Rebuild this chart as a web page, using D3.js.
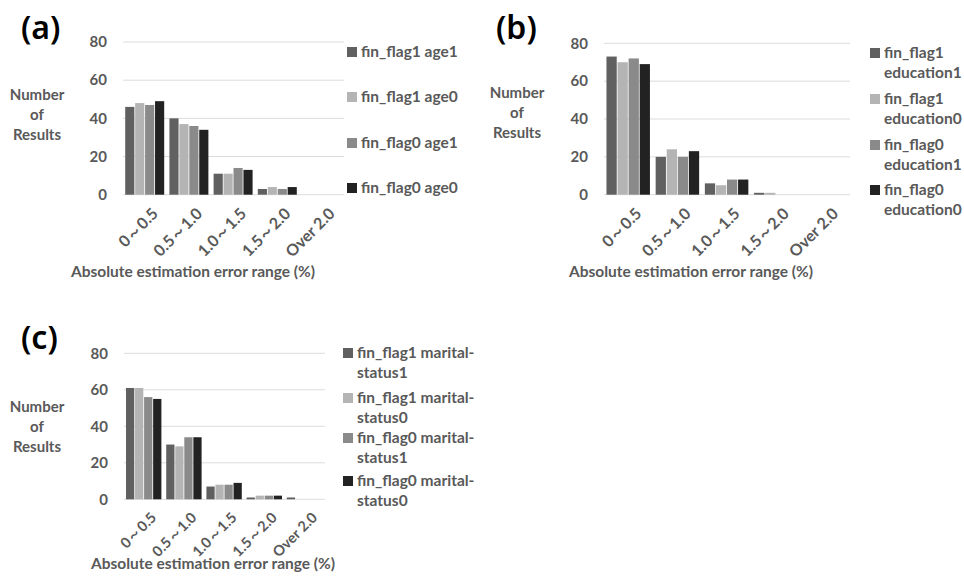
<!DOCTYPE html>
<html>
<head>
<meta charset="utf-8">
<script src="https://cdn.jsdelivr.net/npm/d3@7"></script>
<style>
  body { margin: 0; background: #fff; }
  text { font-family: Lato, "Open Sans", sans-serif; font-weight: bold; fill: #595959; }
</style>
</head>
<body>
<svg width="964" height="582"></svg>
<script>
// categories on the x axis
var ranges = ["0\uff5e0.5", "0.5\uff5e1.0", "1.0\uff5e1.5", "1.5\uff5e2.0", "Over 2.0"];
var yTicks = [0, 20, 40, 60, 80];
var colors = ["#606060", "#b4b4b4", "#8a8a8a", "#222222"];

// (a) age
var ageNames = [["fin_flag1 age1"], ["fin_flag1 age0"], ["fin_flag0 age1"], ["fin_flag0 age0"]];
var ageF1A1 = [46, 40, 11, 3, 0];
var ageF1A0 = [48, 37, 11, 4, 0];
var ageF0A1 = [47, 36, 14, 3, 0];
var ageF0A0 = [49, 34, 13, 4, 0];

// (b) education
var eduNames = [["fin_flag1", "education1"], ["fin_flag1", "education0"], ["fin_flag0", "education1"], ["fin_flag0", "education0"]];
var eduF1E1 = [73, 20, 6, 1, 0];
var eduF1E0 = [70, 24, 5, 1, 0];
var eduF0E1 = [72, 20, 8, 0, 0];
var eduF0E0 = [69, 23, 8, 0, 0];

// (c) marital status
var marNames = [["fin_flag1 marital-", "status1"], ["fin_flag1 marital-", "status0"], ["fin_flag0 marital-", "status1"], ["fin_flag0 marital-", "status0"]];
var marF1M1 = [61, 30, 7, 1, 1];
var marF1M0 = [61, 29, 8, 2, 0];
var marF0M1 = [56, 34, 8, 2, 0];
var marF0M0 = [55, 34, 9, 2, 0];

var svg = d3.select("svg");

function drawPanel(p) {
  var g = svg.append("g");
  var x = d3.scaleBand().domain(ranges).range([p.x0, p.x1]).paddingInner(0.1).paddingOuter(0.05);
  var y = d3.scaleLinear().domain([0, 80]).range([p.yb, p.yt]);
  var series = d3.range(p.values.length);
  var xs = d3.scaleBand().domain(series).range([0, x.bandwidth()]);

  // panel letter
  g.append("text")
    .attr("x", p.lx).attr("y", p.ly)
    .style("font-size", "32px").style("fill", "#000")
    .style("font-family", "'Noto Sans', sans-serif")
    .style("font-weight", "600")
    .text(p.letter);

  // grid lines
  g.selectAll(".grid").data(yTicks).enter().append("line")
    .attr("x1", p.x0).attr("x2", p.x1)
    .attr("y1", function(d) { return y(d); })
    .attr("y2", function(d) { return y(d); })
    .attr("stroke", "#dcdcdc").attr("stroke-width", 1);

  // y tick labels
  g.selectAll(".ytick").data(yTicks).enter().append("text")
    .attr("x", p.x0 - 16)
    .attr("y", function(d) { return y(d); })
    .attr("dy", "0.35em")
    .attr("text-anchor", "end")
    .style("font-size", "15px")
    .text(function(d) { return d; });

  // y title
  var yt = g.append("text").attr("text-anchor", "middle").style("font-size", "15px");
  ["Number", "of", "Results"].forEach(function(s, i) {
    yt.append("tspan").attr("x", p.ytx).attr("y", p.yty + i * 20).text(s);
  });

  // bars
  series.forEach(function(s) {
    g.selectAll(".bar" + s).data(p.values[s]).enter().append("rect")
      .attr("x", function(d, i) { return x(ranges[i]) + xs(s); })
      .attr("y", function(d) { return y(d); })
      .attr("width", xs.bandwidth() - 0.8)
      .attr("height", function(d) { return y(0) - y(d); })
      .attr("fill", colors[s]);
  });

  // x tick labels rotated
  g.selectAll(".xtick").data(ranges).enter().append("text")
    .attr("transform", function(d) {
      return "translate(" + (x(d) + x.bandwidth() / 2 + 6) + "," + (p.yb + p.tickDy) + ") rotate(-45)";
    })
    .attr("text-anchor", "end")
    .attr("dy", "0.7em")
    .style("font-size", p.tickFs + "px")
    .text(function(d) { return d; });

  // x title
  g.append("text")
    .attr("x", p.xtx).attr("y", p.xty)
    .attr("text-anchor", "middle")
    .style("font-size", "15.5px")
    .text("Absolute estimation error range (%)");

  // legend
  series.forEach(function(s) {
    var ly = p.legY[s];
    g.append("rect")
      .attr("x", p.legX).attr("y", ly - 5)
      .attr("width", 10).attr("height", 10)
      .attr("fill", colors[s]);
    var t = g.append("text").style("font-size", "15.5px");
    p.names[s].forEach(function(line, k) {
      t.append("tspan").attr("x", p.legX + 14).attr("y", ly + k * 20).attr("dy", "0.35em").text(line);
    });
  });
}

drawPanel({
  letter: "(a)", lx: 21, ly: 39,
  x0: 123, x1: 344, yb: 194.7, yt: 42,
  ytx: 37, yty: 100, xtx: 193, xty: 277, tickFs: 16, tickDy: 12,
  values: [ageF1A1, ageF1A0, ageF0A1, ageF0A0], names: ageNames,
  legX: 347, legY: [52, 97, 143, 188]
});

drawPanel({
  letter: "(b)", lx: 496, ly: 39,
  x0: 604, x1: 850, yb: 194.7, yt: 43.3,
  ytx: 517, yty: 98, xtx: 691, xty: 277, tickFs: 16, tickDy: 12,
  values: [eduF1E1, eduF1E0, eduF0E1, eduF0E0], names: eduNames,
  legX: 870, legY: [53, 99, 145, 190]
});

drawPanel({
  letter: "(c)", lx: 21, ly: 349,
  x0: 124, x1: 325, yb: 499.3, yt: 353.3,
  ytx: 37, yty: 412, xtx: 213, xty: 569, tickFs: 14.5, tickDy: 12,
  values: [marF1M1, marF1M0, marF0M1, marF0M0], names: marNames,
  legX: 343, legY: [353, 398, 438, 481]
});
</script>
</body>
</html>
